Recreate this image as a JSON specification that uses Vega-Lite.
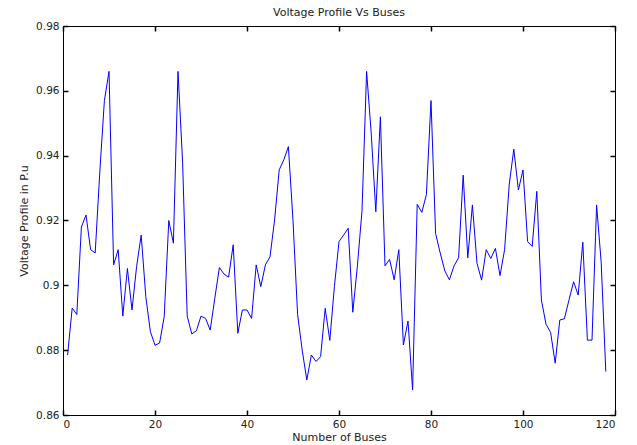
{
  "$schema": "https://vega.github.io/schema/vega-lite/v6.json",
  "width": 552,
  "height": 389,
  "autosize": {"type": "none"},
  "padding": {"left": 63, "top": 26, "right": 22, "bottom": 30},
  "background": "white",
  "title": {"text": "Voltage Profile Vs Buses", "fontSize": 11, "font": "DejaVu Sans", "fontWeight": "normal", "color": "#222222", "offset": 3, "anchor": "middle"},
  "data": {"values": [
    {"bus": 1, "v": 0.8785}, {"bus": 2, "v": 0.893}, {"bus": 3, "v": 0.891}, {"bus": 4, "v": 0.918}, {"bus": 5, "v": 0.9217},
    {"bus": 6, "v": 0.911}, {"bus": 7, "v": 0.910}, {"bus": 8, "v": 0.935}, {"bus": 9, "v": 0.957}, {"bus": 10, "v": 0.966},
    {"bus": 11, "v": 0.9063}, {"bus": 12, "v": 0.911}, {"bus": 13, "v": 0.8905}, {"bus": 14, "v": 0.9052}, {"bus": 15, "v": 0.8924},
    {"bus": 16, "v": 0.9058}, {"bus": 17, "v": 0.9155}, {"bus": 18, "v": 0.8965}, {"bus": 19, "v": 0.8857}, {"bus": 20, "v": 0.8815},
    {"bus": 21, "v": 0.8822}, {"bus": 22, "v": 0.8903}, {"bus": 23, "v": 0.920}, {"bus": 24, "v": 0.913}, {"bus": 25, "v": 0.966},
    {"bus": 26, "v": 0.938}, {"bus": 27, "v": 0.8905}, {"bus": 28, "v": 0.885}, {"bus": 29, "v": 0.886}, {"bus": 30, "v": 0.8905},
    {"bus": 31, "v": 0.8898}, {"bus": 32, "v": 0.8862}, {"bus": 33, "v": 0.896}, {"bus": 34, "v": 0.9055}, {"bus": 35, "v": 0.9035},
    {"bus": 36, "v": 0.9025}, {"bus": 37, "v": 0.9125}, {"bus": 38, "v": 0.8852}, {"bus": 39, "v": 0.8924}, {"bus": 40, "v": 0.8924},
    {"bus": 41, "v": 0.8898}, {"bus": 42, "v": 0.9063}, {"bus": 43, "v": 0.8996}, {"bus": 44, "v": 0.9063}, {"bus": 45, "v": 0.9088},
    {"bus": 46, "v": 0.9202}, {"bus": 47, "v": 0.9356}, {"bus": 48, "v": 0.9387}, {"bus": 49, "v": 0.9428}, {"bus": 50, "v": 0.920},
    {"bus": 51, "v": 0.891}, {"bus": 52, "v": 0.880}, {"bus": 53, "v": 0.8708}, {"bus": 54, "v": 0.8785}, {"bus": 55, "v": 0.8765},
    {"bus": 56, "v": 0.878}, {"bus": 57, "v": 0.8929}, {"bus": 58, "v": 0.883}, {"bus": 59, "v": 0.8996}, {"bus": 60, "v": 0.9135},
    {"bus": 61, "v": 0.9155}, {"bus": 62, "v": 0.9176}, {"bus": 63, "v": 0.8917}, {"bus": 64, "v": 0.906}, {"bus": 65, "v": 0.923},
    {"bus": 66, "v": 0.966}, {"bus": 67, "v": 0.947}, {"bus": 68, "v": 0.9227}, {"bus": 69, "v": 0.952}, {"bus": 70, "v": 0.906},
    {"bus": 71, "v": 0.908}, {"bus": 72, "v": 0.9017}, {"bus": 73, "v": 0.911}, {"bus": 74, "v": 0.8816}, {"bus": 75, "v": 0.889},
    {"bus": 76, "v": 0.8677}, {"bus": 77, "v": 0.925}, {"bus": 78, "v": 0.9225}, {"bus": 79, "v": 0.928}, {"bus": 80, "v": 0.957},
    {"bus": 81, "v": 0.916}, {"bus": 82, "v": 0.910}, {"bus": 83, "v": 0.9045}, {"bus": 84, "v": 0.9017}, {"bus": 85, "v": 0.906},
    {"bus": 86, "v": 0.9085}, {"bus": 87, "v": 0.934}, {"bus": 88, "v": 0.9085}, {"bus": 89, "v": 0.9248}, {"bus": 90, "v": 0.9068},
    {"bus": 91, "v": 0.9016}, {"bus": 92, "v": 0.911}, {"bus": 93, "v": 0.9083}, {"bus": 94, "v": 0.9114}, {"bus": 95, "v": 0.903},
    {"bus": 96, "v": 0.911}, {"bus": 97, "v": 0.931}, {"bus": 98, "v": 0.942}, {"bus": 99, "v": 0.9294}, {"bus": 100, "v": 0.9356},
    {"bus": 101, "v": 0.9135}, {"bus": 102, "v": 0.912}, {"bus": 103, "v": 0.929}, {"bus": 104, "v": 0.8955}, {"bus": 105, "v": 0.888},
    {"bus": 106, "v": 0.8855}, {"bus": 107, "v": 0.876}, {"bus": 108, "v": 0.8893}, {"bus": 109, "v": 0.8897}, {"bus": 110, "v": 0.8955},
    {"bus": 111, "v": 0.9011}, {"bus": 112, "v": 0.897}, {"bus": 113, "v": 0.9133}, {"bus": 114, "v": 0.8831}, {"bus": 115, "v": 0.8831},
    {"bus": 116, "v": 0.9248}, {"bus": 117, "v": 0.907}, {"bus": 118, "v": 0.8734}
  ]},
  "config": {
    "view": {"stroke": "#000000", "strokeWidth": 1},
    "axis": {
      "domain": false, "grid": false, "ticks": true, "tickColor": "#000000", "tickSize": 5, "tickWidth": 1.5, "tickOpacity": 1,
      "labelFont": "DejaVu Sans", "labelFontSize": 10.5, "labelColor": "#222222",
      "titleFont": "DejaVu Sans", "titleFontSize": 11, "titleFontWeight": "normal", "titleColor": "#222222"
    }
  },
  "layer": [
    {
      "mark": {"type": "line", "color": "#0000ff", "strokeWidth": 1},
      "encoding": {
        "x": {"field": "bus", "type": "quantitative",
              "scale": {"domain": [0, 120], "nice": false, "zero": false},
              "axis": {"orient": "bottom", "offset": -5, "values": [0, 20, 40, 60, 80, 100, 120], "title": "Number of Buses", "labelPadding": 4, "titlePadding": 2}},
        "y": {"field": "v", "type": "quantitative",
              "scale": {"domain": [0.86, 0.98], "nice": false, "zero": false},
              "axis": {"orient": "left", "offset": -5, "values": [0.86, 0.88, 0.9, 0.92, 0.94, 0.96, 0.98], "format": "~g", "title": "Voltage Profile in P.u", "labelPadding": 4, "titlePadding": 6}}
      }
    },
    {
      "mark": {"type": "line", "strokeOpacity": 0},
      "encoding": {
        "x": {"field": "bus", "type": "quantitative",
              "scale": {"domain": [0, 120], "nice": false, "zero": false},
              "axis": {"orient": "top", "offset": -5, "values": [0, 20, 40, 60, 80, 100, 120], "labels": false, "title": null}},
        "y": {"field": "v", "type": "quantitative",
              "scale": {"domain": [0.86, 0.98], "nice": false, "zero": false},
              "axis": {"orient": "right", "offset": -5, "values": [0.86, 0.88, 0.9, 0.92, 0.94, 0.96, 0.98], "labels": false, "title": null}}
      }
    }
  ],
  "resolve": {"scale": {"x": "independent", "y": "independent"}, "axis": {"x": "independent", "y": "independent"}}
}
